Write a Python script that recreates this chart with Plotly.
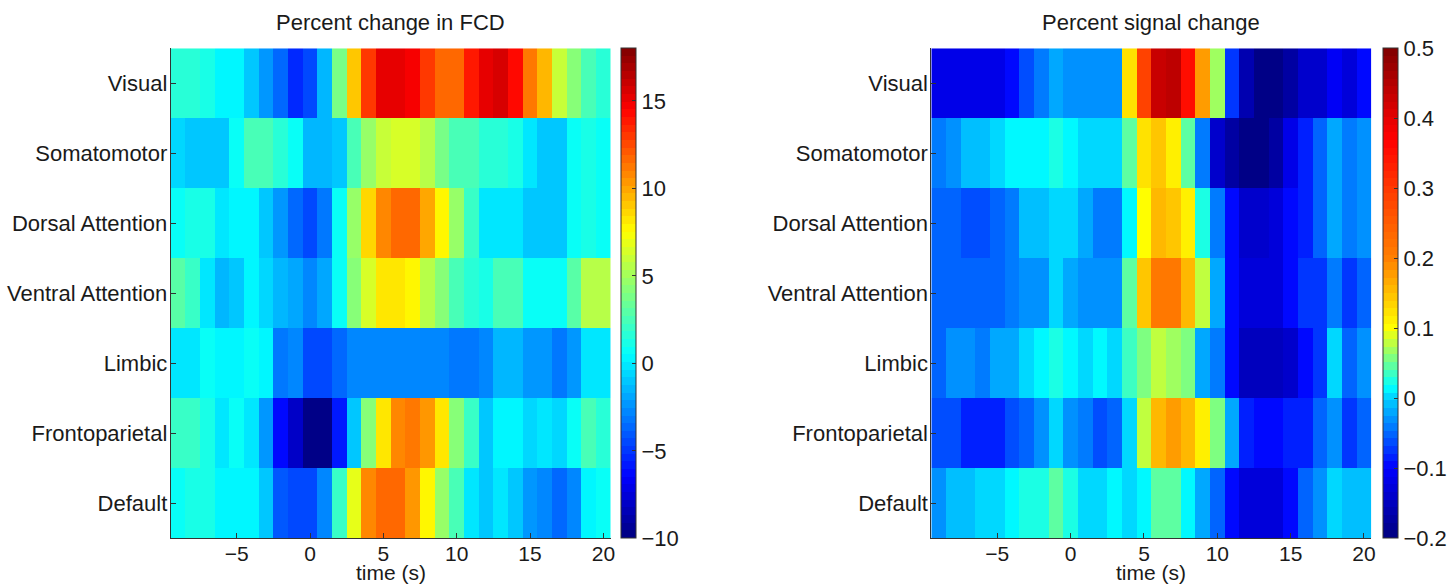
import numpy as np
import plotly.graph_objects as go

# ---------------- data ----------------
times = list(range(-9, 21))
networks = ["Visual", "Somatomotor", "Dorsal Attention", "Ventral Attention",
            "Limbic", "Frontoparietal", "Default"]

fcd_visual = [1.5, 1.5, 1.0, 0.2, 0.2, -0.9, -2.3, -3.7, -5.45, -4.75, -1.6, 3.65, 8.9, 12.75, 15.0,
              15.0, 14.5, 13.1, 11.8, 11.8, 13.8, 15.0, 15.4, 14.15, 11.0, 9.25, 6.1, 4.0, 2.6, 1.55]
fcd_somatomotor = [-0.55, -1.04, -1.04, -1.04, 0.5, 2.6, 2.3, 1.55, 0.5, -1.6, -1.6, -0.9, 2.25, 4.7, 5.75,
                   6.3, 6.3, 5.4, 3.65, 2.4, 2.4, 1.8, 1.8, 1.35, -0.2, -0.9, -0.9, 0.5, 1.2, 0.85]
fcd_dorsal = [0.5, 1.0, 1.0, -0.34, 0.15, 0.15, -1.25, -2.3, -3.6, -4.4, -3.35, 0.5, 4.7, 8.55, 10.65,
              11.8, 11.8, 9.95, 7.5, 4.7, 1.9, -0.06, -0.06, -0.06, -0.9, -0.9, -0.9, 0.5, 1.0, 0.5]
fcd_ventral = [2.95, 1.9, -0.2, -1.6, -0.9, 0.15, -0.55, -1.6, -1.95, -3.0, -1.95, 0.5, 4.0, 6.45, 8.0,
               8.1, 7.5, 5.4, 4.35, 2.6, 1.55, 1.35, 2.6, 2.25, 0.85, 0.85, 0.85, 2.95, 5.4, 5.4]
fcd_limbic = [-0.2, -0.2, 0.5, 0.15, 0.15, 0.5, 0.15, -3.35, -3.0, -4.4, -4.4, -3.7, -3.0, -3.0, -3.0,
              -3.0, -3.0, -3.0, -3.0, -3.35, -3.35, -2.65, -1.5, -1.5, -2.3, -2.3, -3.35, -2.45, -0.05, -0.05]
fcd_frontoparietal = [1.9, 1.9, 1.35, -0.34, 0.85, -0.34, -2.3, -6.5, -7.9, -10.0, -9.65, -5.8, -0.9, 4.35, 8.0,
                      10.65, 11.35, 10.2, 8.2, 4.35, 1.9, -0.9, 0.15, 0.15, -0.55, -0.2, -0.75, 0.5, 2.6, 1.55]
fcd_default = [0.5, 1.2, 1.2, 0.15, 0.15, 0.15, -1.25, -4.05, -4.75, -4.75, -3.0, 1.9, 6.8, 10.65, 11.55,
               11.55, 10.2, 7.5, 4.7, 2.25, -0.06, -1.25, -0.34, -0.9, -2.3, -2.65, -3.6, -2.65, 0.15, 0.5]

psc_visual = [-0.116, -0.116, -0.116, -0.12, -0.12, -0.094, -0.063, -0.045, -0.021, -0.033, -0.033, -0.033, -0.033, 0.12, 0.282,
              0.43, 0.4375, 0.353, 0.18, 0.066, -0.07, -0.164, -0.19, -0.2, -0.176, -0.144, -0.136, -0.11, -0.13, -0.1]
psc_somatomotor = [-0.045, -0.033, -0.012, -0.012, 0.0, 0.008, 0.015, 0.015, 0.028, 0.015, 0.005, 0.005, 0.005, 0.041, 0.12,
                   0.144, 0.114, 0.041, -0.045, -0.136, -0.17, -0.2, -0.19, -0.176, -0.12, -0.088, -0.057, -0.015, -0.045, -0.029]
psc_dorsal = [-0.051, -0.051, -0.063, -0.063, -0.051, -0.039, -0.005, -0.005, 0.005, 0.005, -0.021, -0.037, -0.037, 0.015, 0.1,
              0.15, 0.144, 0.114, 0.028, -0.045, -0.1, -0.136, -0.136, -0.13, -0.1, -0.088, -0.057, -0.015, -0.045, -0.029]
psc_ventral = [-0.057, -0.057, -0.057, -0.057, -0.057, -0.045, -0.033, -0.033, -0.002, -0.015, -0.033, -0.033, -0.033, 0.045, 0.14,
               0.21, 0.21, 0.15, 0.079, -0.017, -0.1, -0.13, -0.13, -0.13, -0.1, -0.076, -0.076, -0.039, -0.076, -0.057]
psc_limbic = [-0.057, -0.029, -0.029, -0.045, -0.024, -0.024, 0.006, 0.015, 0.028, 0.015, 0.005, 0.015, 0.005, 0.032, 0.053,
              0.079, 0.066, 0.053, -0.021, -0.045, -0.1, -0.156, -0.156, -0.15, -0.14, -0.1, -0.07, -0.002, -0.051, -0.029]
psc_frontoparietal = [-0.063, -0.063, -0.088, -0.088, -0.088, -0.063, -0.051, -0.033, -0.002, -0.033, -0.045, -0.063, -0.051, -0.002, 0.079,
                      0.16, 0.176, 0.16, 0.11, 0.062, -0.015, -0.082, -0.1, -0.1, -0.088, -0.088, -0.057, -0.033, -0.076, -0.051]
psc_default = [-0.027, -0.012, -0.012, -0.002, -0.002, 0.015, 0.028, 0.028, 0.041, 0.028, 0.005, 0.005, 0.015, 0.005, 0.015,
               0.045, 0.045, 0.015, -0.017, -0.057, -0.1, -0.124, -0.124, -0.124, -0.094, -0.057, -0.033, 0.005, -0.012, -0.012]

x_ticks = [-5, 0, 5, 10, 15, 20]
fcd_cticks = [-10, -5, 0, 5, 10, 15]
psc_cticks = [-0.2, -0.1, 0, 0.1, 0.2, 0.3, 0.4, 0.5]

fcd_z = [fcd_visual, fcd_somatomotor, fcd_dorsal, fcd_ventral, fcd_limbic, fcd_frontoparietal, fcd_default]
psc_z = [psc_visual, psc_somatomotor, psc_dorsal, psc_ventral, psc_limbic, psc_frontoparietal, psc_default]

# ---------------- colour maps ----------------
def jet(f):
    r = np.clip(min(4 * f - 1.5, -4 * f + 4.5), 0, 1)
    g = np.clip(min(4 * f - 0.5, -4 * f + 3.5), 0, 1)
    b = np.clip(min(4 * f + 0.5, -4 * f + 2.5), 0, 1)
    return "rgb(%d,%d,%d)" % (round(r * 255), round(g * 255), round(b * 255))

N = 64
def discrete_scale(color_of):
    cs = []
    for i in range(N):
        c = color_of((i + 0.5) / N)
        cs.append([i / N, c])
        cs.append([(i + 1) / N, c])
    return cs

fcd_scale = discrete_scale(jet)

# right panel colormap: jet stretched non-linearly over [-0.2, 0.5]
psc_anchor_v = [-0.2, -0.1, 0.0, 0.1, 0.2, 0.3, 0.4, 0.5]
psc_anchor_f = [0.0, 0.125, 0.33, 0.625, 0.75, 0.82, 0.9, 1.0]
def psc_color(t):
    v = -0.2 + 0.7 * t
    return jet(float(np.interp(v, psc_anchor_v, psc_anchor_f)))
psc_scale = discrete_scale(psc_color)

def fmt(v):
    s = ("%g" % v)
    return s.replace("-", "\u2212")

# ---------------- layout geometry ----------------
W, H = 1455, 584
y0, y1 = 1 - 538.3 / H, 1 - 48.3 / H
xl = [170.7 / W, 610.7 / W]
xr = [931.3 / W, 1371.3 / W]
FONT = "Liberation Sans, Arial, Helvetica, sans-serif"
TXT = "#1a1a1a"
FS = 22
FSX = 21

def cbar(xpx, ticks):
    return dict(x=xpx / W, xanchor="left", xpad=0, ypad=0,
                y=(y0 + y1) / 2, yanchor="middle", len=(y1 - y0), lenmode="fraction",
                thickness=15, outlinecolor="#333", outlinewidth=1,
                tickvals=ticks, ticktext=[fmt(t) for t in ticks],
                ticks="inside", ticklen=4, tickcolor="#333",
                tickfont=dict(family=FONT, size=FS, color=TXT))

fig = go.Figure()
fig.add_trace(go.Heatmap(x=times, y=list(range(len(networks))), z=fcd_z,
                         zmin=-10, zmax=18, colorscale=fcd_scale, hoverinfo="skip",
                         colorbar=cbar(621, fcd_cticks), xaxis="x", yaxis="y"))
fig.add_trace(go.Heatmap(x=times, y=list(range(len(networks))), z=psc_z,
                         zmin=-0.2, zmax=0.5, colorscale=psc_scale, hoverinfo="skip",
                         colorbar=cbar(1382.5, psc_cticks), xaxis="x2", yaxis="y2"))

def xax(dom, anchor):
    return dict(domain=dom, anchor=anchor, range=[-9.5, 20.5], automargin=False,
                tickvals=x_ticks, ticktext=[fmt(t) for t in x_ticks],
                ticks="inside", ticklen=5, tickcolor="#333",
                showline=True, linecolor="#333", linewidth=1, mirror=False,
                showgrid=False, zeroline=False, ticklabelstandoff=-4,
                tickfont=dict(family=FONT, size=FSX, color=TXT))

def yax(anchor):
    return dict(domain=[y0, y1], anchor=anchor, range=[6.5, -0.5], automargin=False,
                tickvals=list(range(len(networks))), ticktext=networks,
                ticks="inside", ticklen=5, tickcolor="#333",
                showline=True, linecolor="#333", linewidth=1,
                showgrid=False, zeroline=False, ticklabelstandoff=-2,
                tickfont=dict(family=FONT, size=FS, color=TXT))

def ann(text, x, ypx, size):
    return dict(text=text, x=x, y=1 - ypx / H, xref="paper", yref="paper",
                showarrow=False, xanchor="center", yanchor="middle",
                font=dict(family=FONT, size=size, color=TXT))

fig.update_layout(
    width=W, height=H, margin=dict(l=0, r=0, t=0, b=0, autoexpand=False),
    paper_bgcolor="white", plot_bgcolor="white",
    xaxis=xax(xl, "y"), yaxis=yax("x"),
    xaxis2=xax(xr, "y2"), yaxis2=yax("x2"),
    annotations=[
        ann("Percent change in FCD", (xl[0] + xl[1]) / 2, 22, FS),
        ann("Percent signal change", (xr[0] + xr[1]) / 2, 22, FS),
        ann("time (s)", (xl[0] + xl[1]) / 2, 572, FSX),
        ann("time (s)", (xr[0] + xr[1]) / 2, 572, FSX),
    ],
)

fig.write_html("out.html", config={"displayModeBar": False},
               post_script="document.body.style.margin='0';document.body.style.overflow='hidden';")
